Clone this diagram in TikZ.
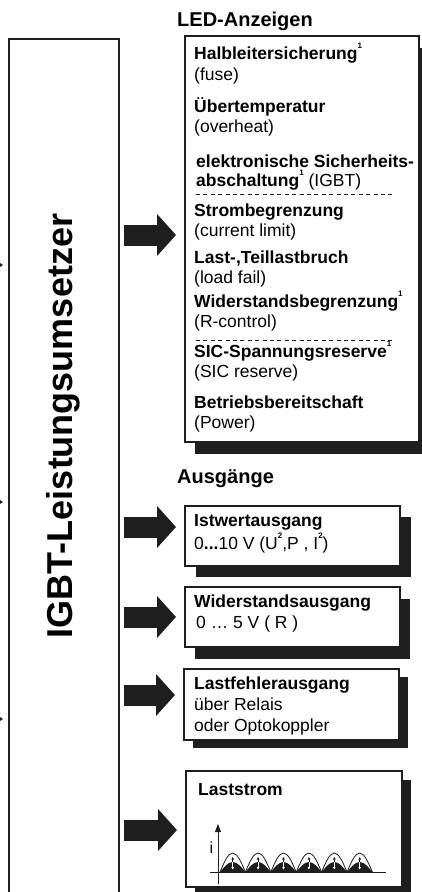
\documentclass[tikz,border=0pt]{standalone}
\usepackage{fontspec}
\setmainfont{Liberation Sans}
\usetikzlibrary{arrows.meta,shadows}
\newcommand\tsup[1]{\raisebox{0.58em}{\fontsize{8}{8}\selectfont\bfseries #1}}
\definecolor{ink}{HTML}{1E1E1E}
\begin{document}
\begin{tikzpicture}[x=1pt,y=-1pt,
  box/.style={draw=ink, line width=1.3pt, fill=white, inner sep=0pt, outer sep=0pt, anchor=north west},
  shad/.style 2 args={drop shadow={shadow xshift=#1pt, shadow yshift=-#2pt, opacity=1, fill=ink}},
  txt/.style={anchor=base west, inner sep=0pt, font=\fontsize{17.5}{20}\selectfont},
  btxt/.style={anchor=base west, inner sep=0pt, font=\fontsize{17.5}{20}\selectfont\bfseries},
  head/.style={anchor=base west, inner sep=0pt, font=\fontsize{20}{22}\selectfont\bfseries},
  bigarrow/.style={ink, line width=21pt, -{Triangle[length=19pt 0 0, width=41pt 0 0]}, shorten <=5pt, shorten >=9pt},
  smallarrow/.style={ink, line width=1pt, -{Triangle[length=4pt 0 0, width=5pt 0 0]}, shorten >=6pt},
  sep/.style={ink, line width=0.8pt, dash pattern=on 4pt off 3.4pt}
]
\path[use as bounding box] (0,0) rectangle (422,892);
\clip (0,0) rectangle (422,892);

% main box
\node[box, minimum width=110pt, minimum height=880pt] (igbt) at (9,39) {};
\node[rotate=90, anchor=base, inner sep=0pt, font=\fontsize{36}{40}\selectfont\bfseries] (title) at (72,426) {IGBT-Leistungsumsetzer};

% incoming small arrows
\coordinate (in1) at (-10,265);
\coordinate (in2) at (-10,502);
\coordinate (in3) at (-10,719);
\draw[smallarrow] (in1) -- (igbt.west |- in1);
\draw[smallarrow] (in2) -- (igbt.west |- in2);
\draw[smallarrow] (in3) -- (igbt.west |- in3);

% LED box
\node[head] (hled) at (177,26) {LED-Anzeigen};
\node[box, shad={10}{12}, minimum width=234pt, minimum height=406pt] (led) at (185,36) {};
\node[btxt] (l1a) at (194,59) {Halbleitersicherung\tsup{1}};
\node[txt]  (l1b) at (194,80) {(fuse)};
\node[btxt] (l2a) at (194,112) {Übertemperatur};
\node[txt]  (l2b) at (194,132) {(overheat)};
\node[btxt] (l3a) at (196,167) {elektronische Sicherheits-};
\node[txt]  (l3b) at (196,186) {\textbf{abschaltung}\tsup{1} (IGBT)};
\draw[sep] (196,194) -- (393,194);
\node[btxt] (l4a) at (194,216) {Strombegrenzung};
\node[txt]  (l4b) at (194,236) {(current limit)};
\node[btxt] (l5a) at (194,263) {Last-,Teillastbruch};
\node[txt]  (l5b) at (194,283) {(load fail)};
\node[btxt] (l6a) at (194,307) {Widerstandsbegrenzung\tsup{1}};
\node[txt]  (l6b) at (194,327) {(R-control)};
\draw[sep] (196,340) -- (393,340);
\node[btxt] (l7a) at (194,357) {SIC-Spannungsreserve\tsup{1}};
\node[txt]  (l7b) at (194,377) {(SIC reserve)};
\node[btxt] (l8a) at (194,408) {Betriebsbereitschaft};
\node[txt]  (l8b) at (194,428) {(Power)};

% outputs
\node[head] (haus) at (177,483) {Ausgänge};

\node[box, shad={11}{11}, minimum width=215pt, minimum height=60pt] (ist) at (185,506) {};
\node[btxt] (i1) at (194,526) {Istwertausgang};
\node[txt]  (i2) at (194,549) {0\textbf{...}10 V (U\tsup{2},P , I\tsup{2})};

\node[box, shad={10}{12}, minimum width=215pt, minimum height=60pt] (wid) at (185,587) {};
\node[btxt] (w1) at (194,607) {Widerstandsausgang};
\node[txt]  (w2) at (196,628) {0 … 5 V ( R )};

\node[box, shad={9}{8}, minimum width=215pt, minimum height=71pt] (lf) at (184,669) {};
\node[btxt] (f1) at (194,689) {Lastfehlerausgang};
\node[txt]  (f2) at (194,710) {über Relais};
\node[txt]  (f3) at (194,731) {oder Optokoppler};

\node[box, shad={9}{9}, minimum width=216pt, minimum height=116pt] (ls) at (186,771) {};
\node[btxt] (s1) at (198,795) {Laststrom};

% big arrows
\coordinate (y1) at (0,235);
\coordinate (y2) at (0,527);
\coordinate (y3) at (0,617);
\coordinate (y4) at (0,695);
\coordinate (y5) at (0,830);
\draw[bigarrow] (igbt.east |- y1) -- (led.west |- y1);
\draw[bigarrow] (igbt.east |- y2) -- (ist.west |- y2);
\draw[bigarrow] (igbt.east |- y3) -- (wid.west |- y3);
\draw[bigarrow] (igbt.east |- y4) -- (lf.west |- y4);
\draw[bigarrow] (igbt.east |- y5) -- (ls.west |- y5);

% current graph
\coordinate (ax0) at (218,884);
\coordinate (ax1) at (218,824);
\coordinate (hx0) at (210,872);
\coordinate (hx1) at (386,872);
\foreach \k in {0,...,5}{
  \pgfmathsetmacro\xa{220+25.4*\k}
  \pgfmathsetmacro\xm{\xa+12.7}
  \pgfmathsetmacro\xb{\xa+25.4}
  \fill[ink] (\xa,872) sin (\xm,862) cos (\xb,872) -- cycle;
  \draw[ink, line width=0.8pt] (\xa,872) sin (\xm,853) cos (\xb,872);
  \draw[ink, line width=0.6pt, -{Triangle[length=2.5pt 0 0, width=2.5pt 0 0]}] (\xm,862) -- (\xm,857);
  \draw[white, line width=0.6pt, -{Triangle[length=2.5pt 0 0, width=2.5pt 0 0]}] (\xm,862) -- (\xm,869.5);
}
\draw[ink, line width=0.9pt] (hx0) -- (hx1);
\draw[ink, line width=0.9pt, -{Triangle[length=8pt 0 0, width=6pt 0 0]}] (ax0) -- (ax1);
\node[anchor=base, inner sep=0pt, font=\fontsize{16}{16}\selectfont] (ilab) at (211.5,853) {i};
\end{tikzpicture}
\end{document}
